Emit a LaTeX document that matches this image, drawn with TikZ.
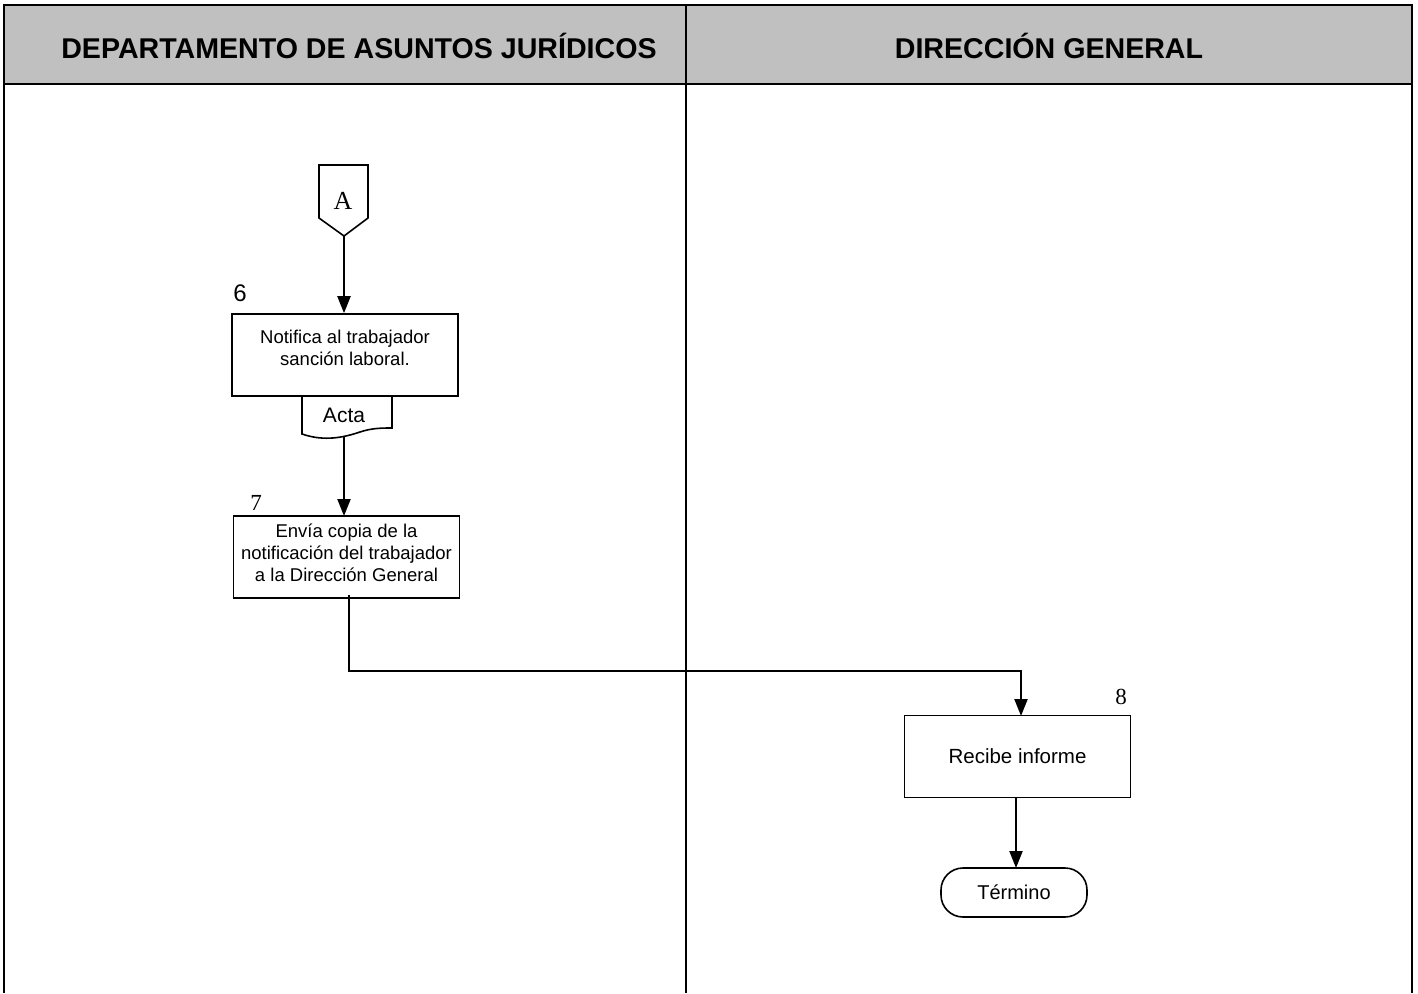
\documentclass[tikz,border=0pt]{standalone}
\usepackage{fontspec}
\setmainfont{Liberation Sans}
\newfontfamily\serifnum{Liberation Serif}
\usetikzlibrary{arrows.meta}
\definecolor{hdrgray}{RGB}{192,192,192}
\begin{document}
\begin{tikzpicture}[x=1pt,y=-1pt,
  lane/.style={line width=2.2pt},
  procbox/.style={draw,line width=1.6pt,minimum width=226pt,minimum height=82pt,inner sep=0pt,align=center},
  flow/.style={line width=2.2pt,-{Triangle[length=17pt,width=13pt]}},
  hdr/.style={font=\fontsize{28.6}{32}\selectfont\bfseries},
  btxt/.style={font=\fontsize{18.5}{22}\selectfont},
  numsans/.style={font=\fontsize{24}{28}\selectfont},
  numserif/.style={font=\serifnum\fontsize{23}{26}\selectfont},
]
\useasboundingbox (0,0) rectangle (1418,993);
% header
\fill[hdrgray] (4,5) rectangle (1412,84);
\draw[lane] (4,993) -- (4,5) -- (1412,5) -- (1412,993);
\draw[lane] (4,84) -- (1412,84);
\draw[lane] (686,5) -- (686,993);
\node[hdr] (h1) at (359,46) {DEPARTAMENTO DE ASUNTOS JURÍDICOS};
\node[hdr] (h2) at (1049,46) {DIRECCIÓN GENERAL};

% off-page connector A
\coordinate (Atip) at (344,236);
\draw[line width=1.6pt] (319,165) -- (368,165) -- (368,218) -- (Atip) -- (319,218) -- cycle;
\node[font=\serifnum\fontsize{26}{28}\selectfont] (A) at (343,201) {A};

% step 6
\node[procbox] (b6) at (345,355) {};
\node[btxt,align=center,anchor=north] (t6) at (345,327) {Notifica al trabajador\\sanción laboral.};
\node[numsans] (n6) at (240,293) {6};
\draw[flow] (Atip) -- (b6.north -| Atip);

% document Acta
\coordinate (actaTL) at (302,396);
\draw[line width=1.6pt] (actaTL) -- (302,434) .. controls (325,442) and (345,437) .. (360,432)
  .. controls (372,428) and (382,428) .. (392,428) -- (392,396);
\node[font=\fontsize{21}{24}\selectfont] (acta) at (344,415) {Acta};
\coordinate (actaB) at (344,436);

% step 7
\node[procbox] (b7) at (346.5,557) {};
\node[btxt,align=center] (t7) at (346.5,553) {Envía copia de la\\notificación del trabajador\\a la Dirección General};
\node[numserif] (n7) at (256,503) {7};
\draw[flow] (actaB) -- (344,516);

% connector to step 8
\coordinate (c7) at (349,595);
\node[procbox] (b8) at (1017.5,756.5) {\fontsize{20.5}{24}\selectfont Recibe informe};
\node[numserif] (n8) at (1121,697) {8};
\draw[flow] (c7) -- (349,671) -- (1021,671) -- (1021,716);

% terminal
\node[draw,line width=1.6pt,rounded corners=22pt,minimum width=146pt,minimum height=49pt,text height=13pt,text depth=0pt,font=\fontsize{20}{24}\selectfont] (term) at (1014,892.5) {Término};
\draw[flow] (1016,797) -- (1016,868);
\end{tikzpicture}
\end{document}
